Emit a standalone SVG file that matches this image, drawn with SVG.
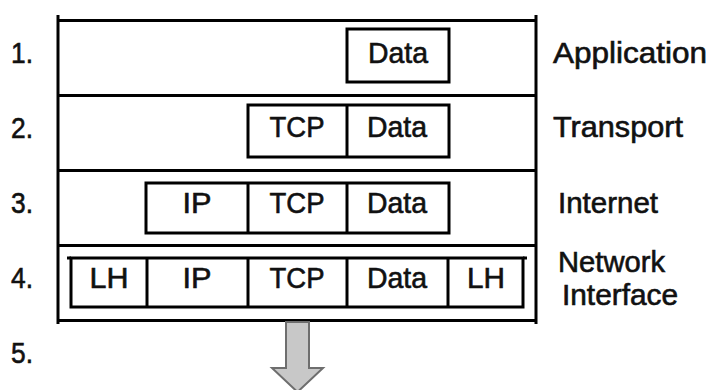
<svg xmlns="http://www.w3.org/2000/svg" width="710" height="390" viewBox="0 0 710 390">
<style>
  .t { font-family: "Liberation Sans", Arial, sans-serif; font-size: 29px; fill: #111; stroke: #111; stroke-width: 0.6; }
  .c { text-anchor: middle; }
  .ln { stroke: #000; stroke-width: 3; fill: none; }
  .box { stroke: #000; stroke-width: 3; fill: #fff; }
</style>
<rect width="710" height="390" fill="#fff"/>

<g id="frame">
  <line class="ln" x1="58" y1="15" x2="58" y2="324"/>
  <line class="ln" x1="536" y1="15" x2="536" y2="324"/>
  <line class="ln" x1="58" y1="20.5" x2="536" y2="20.5"/>
  <line class="ln" x1="58" y1="95.5" x2="536" y2="95.5"/>
  <line class="ln" x1="58" y1="170.5" x2="536" y2="170.5"/>
  <line class="ln" x1="58" y1="245.5" x2="536" y2="245.5"/>
  <line class="ln" x1="58" y1="320.5" x2="536" y2="320.5"/>
</g>

<g id="numbers">
  <text class="t" x="11" y="63" textLength="22" lengthAdjust="spacingAndGlyphs">1.</text>
  <text class="t" x="11" y="138" textLength="22" lengthAdjust="spacingAndGlyphs">2.</text>
  <text class="t" x="11" y="213" textLength="22" lengthAdjust="spacingAndGlyphs">3.</text>
  <text class="t" x="11" y="288" textLength="22" lengthAdjust="spacingAndGlyphs">4.</text>
  <text class="t" x="11" y="363" textLength="22" lengthAdjust="spacingAndGlyphs">5.</text>
</g>

<g id="layer-application">
  <rect class="box" x="347" y="29" width="102" height="53"/>
  <text class="t c" x="398" y="63" textLength="60" lengthAdjust="spacingAndGlyphs">Data</text>
  <text class="t" x="553" y="63" textLength="154" lengthAdjust="spacingAndGlyphs">Application</text>
</g>

<g id="layer-transport">
  <rect class="box" x="248" y="105" width="201" height="52"/>
  <line class="ln" x1="347" y1="105" x2="347" y2="157"/>
  <text class="t c" x="297" y="137" textLength="55" lengthAdjust="spacingAndGlyphs">TCP</text>
  <text class="t c" x="397" y="137" textLength="60" lengthAdjust="spacingAndGlyphs">Data</text>
  <text class="t" x="553" y="137" textLength="130" lengthAdjust="spacingAndGlyphs">Transport</text>
</g>

<g id="layer-internet">
  <rect class="box" x="146" y="183" width="303" height="50"/>
  <line class="ln" x1="248" y1="183" x2="248" y2="233"/>
  <line class="ln" x1="347" y1="183" x2="347" y2="233"/>
  <text class="t c" x="197" y="213" textLength="29" lengthAdjust="spacingAndGlyphs">IP</text>
  <text class="t c" x="297" y="213" textLength="55" lengthAdjust="spacingAndGlyphs">TCP</text>
  <text class="t c" x="397" y="213" textLength="60" lengthAdjust="spacingAndGlyphs">Data</text>
  <text class="t" x="558" y="213" textLength="100" lengthAdjust="spacingAndGlyphs">Internet</text>
</g>

<g id="layer-network">
  <rect class="box" x="71" y="258" width="452" height="49"/>
  <line class="ln" x1="67" y1="258" x2="71" y2="258"/>
  <line class="ln" x1="523" y1="258" x2="527" y2="258"/>
  <line class="ln" x1="147" y1="258" x2="147" y2="307"/>
  <line class="ln" x1="248" y1="258" x2="248" y2="307"/>
  <line class="ln" x1="347" y1="258" x2="347" y2="307"/>
  <line class="ln" x1="448" y1="258" x2="448" y2="307"/>
  <text class="t c" x="109" y="288" textLength="39" lengthAdjust="spacingAndGlyphs">LH</text>
  <text class="t c" x="197" y="288" textLength="29" lengthAdjust="spacingAndGlyphs">IP</text>
  <text class="t c" x="297" y="288" textLength="55" lengthAdjust="spacingAndGlyphs">TCP</text>
  <text class="t c" x="397" y="288" textLength="60" lengthAdjust="spacingAndGlyphs">Data</text>
  <text class="t c" x="486" y="288" textLength="38" lengthAdjust="spacingAndGlyphs">LH</text>
  <text class="t" x="558" y="272" textLength="107" lengthAdjust="spacingAndGlyphs">Network</text>
  <text class="t" x="562" y="305" textLength="116" lengthAdjust="spacingAndGlyphs">Interface</text>
</g>

<g id="connectors">
  <path d="M286,322 L309,322 L309,368 L323,368 L297.5,392 L272,368 L286,368 Z" fill="#c8c8c8" stroke="#6e6e6e" stroke-width="2" stroke-linejoin="miter"/>
</g>
</svg>
